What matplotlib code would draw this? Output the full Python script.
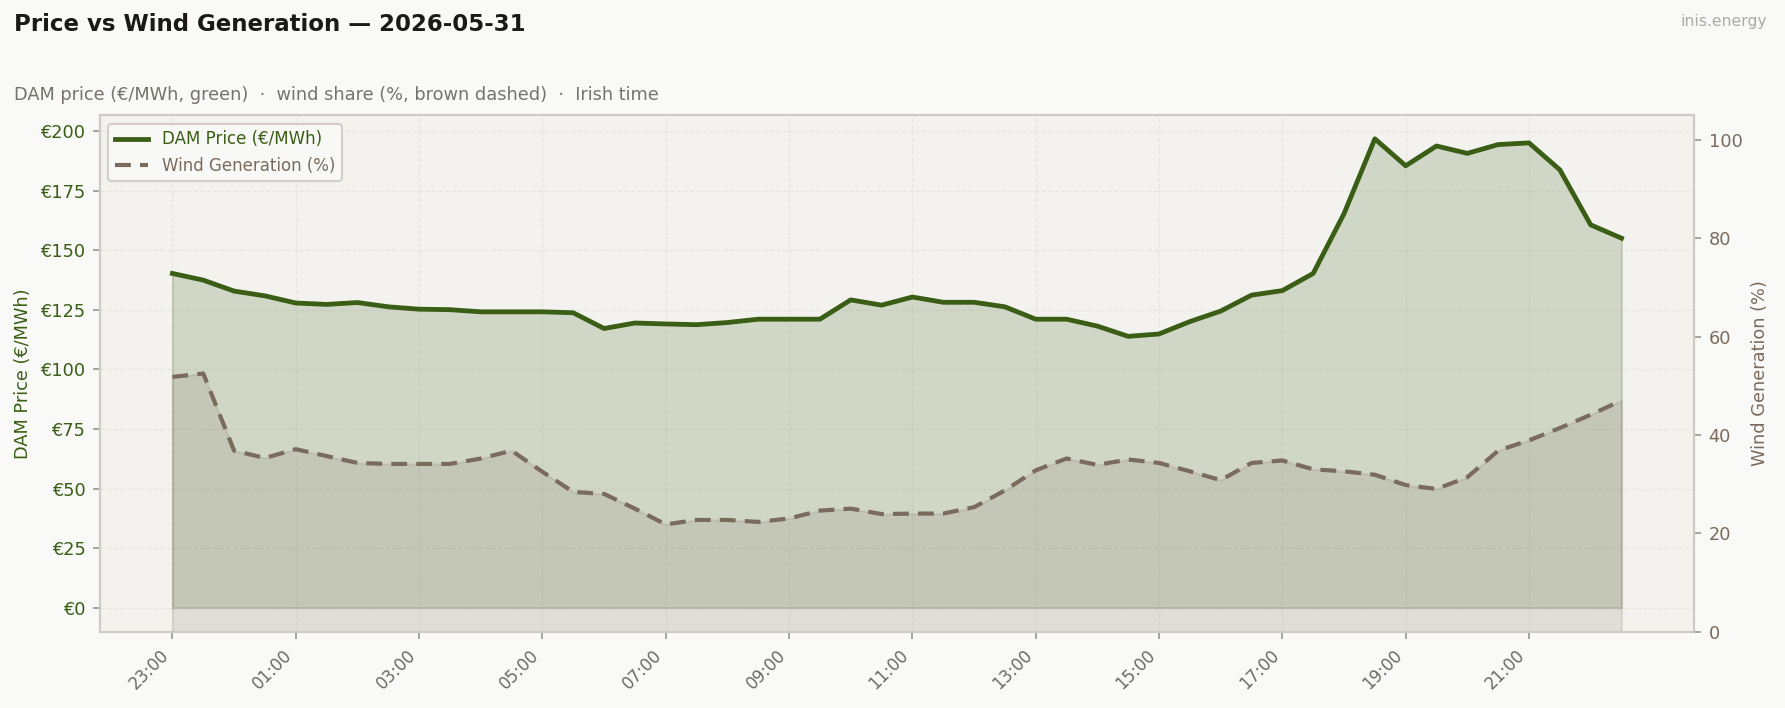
import matplotlib
matplotlib.use("Agg")
import matplotlib.pyplot as plt
import matplotlib.dates as mdates
import pandas as pd

# half-hourly, Irish time, 23:00 the day before -> 22:30
times = pd.date_range("2026-05-30 23:00", periods=48, freq="30min")

price = [140.3, 137.5, 132.9, 130.9, 127.9, 127.3, 128.1, 126.3, 125.3, 125.1,
         124.2, 124.2, 124.2, 123.8, 117.2, 119.5, 119.1, 118.8, 119.7, 121.1,
         121.1, 121.1, 129.2, 127.0, 130.4, 128.2, 128.2, 126.3, 121.1, 121.1,
         118.2, 113.9, 114.9, 120.1, 124.5, 131.2, 133.1, 140.3, 165.4, 196.8,
         185.5, 193.8, 190.7, 194.4, 195.1, 183.8, 160.7, 155.1]

wind = [51.8, 52.5, 36.8, 35.3, 37.1, 35.7, 34.3, 34.1, 34.1, 34.1,
        35.2, 36.8, 32.5, 28.4, 28.0, 25.0, 21.8, 22.7, 22.7, 22.3,
        23.0, 24.6, 25.0, 23.9, 24.0, 24.0, 25.3, 28.7, 32.8, 35.2,
        33.9, 35.0, 34.3, 32.6, 30.8, 34.3, 34.8, 33.0, 32.6, 31.9,
        29.8, 29.0, 31.4, 36.8, 38.9, 41.4, 44.1, 47.0]

GREEN = "#3a5e15"
BROWN = "#7a6b5d"
BG = "#f9f9f7"
AX_BG = "#f3f2ef"
SPINE = "#cfcac3"

fig = plt.figure(figsize=(11.9, 4.72), dpi=150, facecolor=BG)
ax = fig.add_axes([0.056, 0.108, 0.893, 0.729])
ax.set_facecolor(AX_BG)

ax.fill_between(times, 0, price, color=GREEN, alpha=0.18)
l1, = ax.plot(times, price, color=GREEN, lw=2.3, label="DAM Price (€/MWh)")
ax.set_ylim(-10, max(price) * 1.05)
ax.set_yticks(range(0, 201, 25))
ax.yaxis.set_major_formatter(lambda v, p: f"€{v:.0f}")
ax.tick_params(axis="y", colors="#9a958e", labelcolor=GREEN, labelsize=8.5)
ax.set_ylabel("DAM Price (€/MWh)", color=GREEN, fontsize=8.5)
ax.grid(True, linestyle="--", color="#dedbd5", lw=0.6, alpha=0.55)
ax.set_axisbelow(True)

ax2 = ax.twinx()
ax2.fill_between(times, 0, wind, color=BROWN, alpha=0.15)
l2, = ax2.plot(times, wind, color=BROWN, lw=2.0, ls=(0, (3.8, 2.2)),
               label="Wind Generation (%)")
ax2.set_ylim(0, 105)
ax2.tick_params(axis="y", colors="#9a958e", labelcolor=BROWN, labelsize=8.5)
ax2.set_ylabel("Wind Generation (%)", color=BROWN, fontsize=8.5)

# a label every 2 hours, from the first slot
ax.set_xticks(times[::4])
ax.xaxis.set_major_formatter(mdates.DateFormatter("%H:%M"))
ax.tick_params(axis="x", colors="#9a958e", labelcolor="#6e6a64", labelsize=8)
for lab in ax.get_xticklabels():
    lab.set_rotation(45)
    lab.set_ha("right")

for a in (ax, ax2):
    for s in a.spines.values():
        s.set_color(SPINE)
        s.set_linewidth(1.0)

leg = ax.legend(handles=[l1, l2], loc="upper left", fontsize=8,
                facecolor=BG, edgecolor=SPINE, framealpha=0.9)
for txt, c in zip(leg.get_texts(), [GREEN, BROWN]):
    txt.set_color(c)

fig.text(0.008, 0.965, "Price vs Wind Generation — 2026-05-31", fontsize=11,
         fontweight="bold", color="#1c1a17", va="center", ha="left")
fig.text(0.008, 0.866, "DAM price (€/MWh, green)  ·  wind share (%, brown dashed)  ·  Irish time",
         fontsize=8.5, color="#77726b", va="center", ha="left")
fig.text(0.990, 0.970, "inis.energy", fontsize=7.5, color="#aeaaa4",
         va="center", ha="right")

fig.savefig("out.png", dpi=150, facecolor=BG)
